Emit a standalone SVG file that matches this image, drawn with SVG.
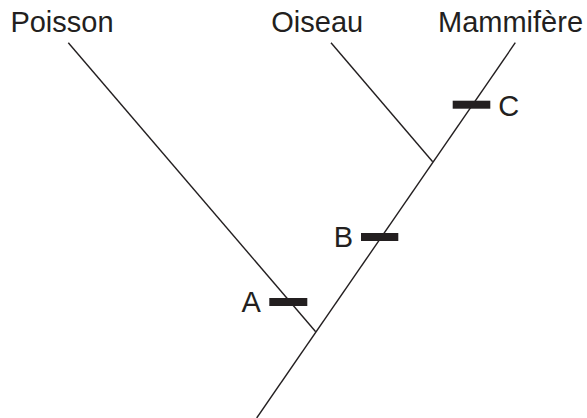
<svg xmlns="http://www.w3.org/2000/svg" width="587" height="418" viewBox="0 0 587 418">
  <style>
    .lbl { font-family: "Liberation Sans", Arial, sans-serif; font-size: 29px; fill: #231f20; }
    .br { stroke: #231f20; stroke-width: 1.4; fill: none; stroke-linecap: butt; }
    .bar { fill: #231f20; }
  </style>
  <rect width="587" height="418" fill="#ffffff"/>
  <g id="connectors">
    <line class="br" x1="256.7" y1="418" x2="515.3" y2="42.7"/>
    <line class="br" x1="315.7" y1="331.7" x2="68.3" y2="42.7"/>
    <line class="br" x1="432.7" y1="161.7" x2="331" y2="42.7"/>
  </g>
  <g id="poisson"><text class="lbl" x="10.4" y="32">Poisson</text></g>
  <g id="oiseau"><text class="lbl" x="271.3" y="32">Oiseau</text></g>
  <g id="mammifere"><text class="lbl" x="438" y="32">Mammifère</text></g>
  <g id="C">
    <rect class="bar" x="452.7" y="100.7" width="37.6" height="8"/>
    <text class="lbl" x="498.3" y="116">C</text>
  </g>
  <g id="B">
    <rect class="bar" x="361" y="233" width="37.3" height="8"/>
    <text class="lbl" x="333.7" y="247">B</text>
  </g>
  <g id="A">
    <rect class="bar" x="269.3" y="298" width="38" height="8"/>
    <text class="lbl" x="241.5" y="311.5">A</text>
  </g>
</svg>
